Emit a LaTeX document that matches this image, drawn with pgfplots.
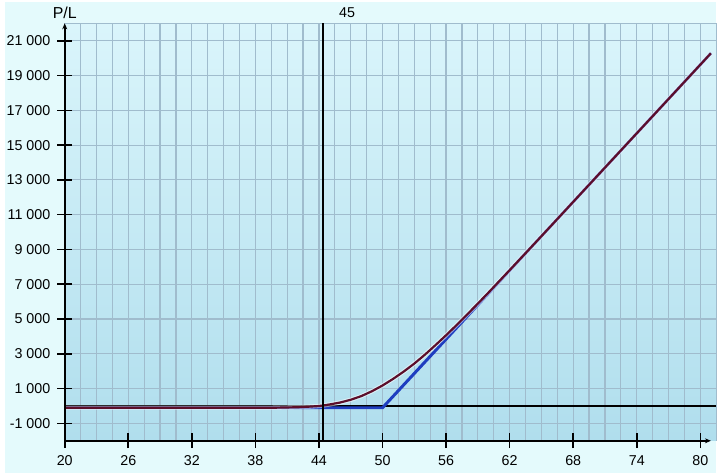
\documentclass[border=0pt]{standalone}
\usepackage{fontspec}
\setmainfont{Liberation Sans}
\usepackage{pgfplots}
\usepackage{pgfplotstable}
\pgfplotsset{compat=1.18}
\usetikzlibrary{arrows.meta}
\definecolor{outerbg}{RGB}{228,250,252}
\definecolor{plottop}{RGB}{218,245,251}
\definecolor{plotbot}{RGB}{176,222,237}
\definecolor{gridc}{RGB}{160,188,205}
\definecolor{redc}{RGB}{92,14,42}
\definecolor{bluec}{RGB}{30,62,192}

\pgfplotstableread{
x y
20 -100
38 -100
40 -95
42 -70
43 -40
44 0
44.5 40
45 90
46 200
47 360
48 570
49 850
50 1180
51 1560
52 1980
53 2440
54 2950
55 3500
56 4070
57 4660
58 5270
59 5890
60 6520
62 7810
64 9110
66 10420
70 13050
75 16335
81 20280
}\redtable

\pgfplotstableread{
x y
20 -100
50 -100
81 20280
}\bluetable

\begin{document}
\begin{tikzpicture}
\fill[outerbg] (-30pt,-16pt) rectangle (328.5pt,221.5pt);
\begin{axis}[
  at={(0pt,0pt)}, anchor=south west,
  scale only axis, width=328.5pt, height=210.5pt,
  xmin=20, xmax=81.5, ymin=-2000, ymax=22000,
  clip=false,
  scaled y ticks=false, scaled x ticks=false,
  axis background/.style={top color=plottop, bottom color=plotbot},
  axis line style={draw=none},
  xtick={20,26,32,38,44,50,56,62,68,74,80},
  minor xtick={21.5,23,24.5,27.5,29,30.5,33.5,35,36.5,39.5,41,42.5,45.5,47,48.5,51.5,53,54.5,57.5,59,60.5,63.5,65,66.5,69.5,71,72.5,75.5,77,78.5,81.5},
  minor ytick={},
  ytick={-1000,1000,3000,5000,7000,9000,11000,13000,15000,17000,19000,21000},
  yticklabels={-1 000,1 000,3 000,5 000,7 000,9 000,11 000,13 000,15 000,17 000,19 000,21 000},
  xticklabels={20,26,32,38,44,50,56,62,68,74,80},
  xmajorgrids=true, ymajorgrids=true, xminorgrids=true, yminorgrids=false,
  major grid style={gridc, line width=0.6pt},
  minor grid style={gridc, line width=0.6pt},
  tick style={black, line width=0.8pt},
  major tick length=7.5pt,
  minor tick length=0pt,
  tick align=center,
  xtick pos=bottom, ytick pos=left,
  ticklabel style={font=\fontsize{7.2}{8}\selectfont},
]
\draw[gridc, line width=0.6pt] (axis cs:20,22000) -- (axis cs:81.5,22000);
\draw[black, line width=0.6pt] (axis cs:20,0) -- (axis cs:81.5,0);
\addplot[bluec, line width=1.5pt] table {\bluetable};
\addplot[white, opacity=0.5, line width=2.2pt] table {\redtable};
\addplot[redc, line width=1.1pt] table {\redtable};
\draw[black, line width=1pt] (axis cs:44.4,-2000) -- (axis cs:44.4,22000);
\node[anchor=west, font=\fontsize{7.2}{8}\selectfont] at ([xshift=4.5pt,yshift=5.5pt]axis cs:44.4,22000) {45};
\node[font=\fontsize{8}{9}\selectfont] at ([yshift=5.5pt]axis cs:20,22000) {P/L};
\draw[black, line width=0.8pt, -{Stealth[length=3pt,width=2.5pt]}] (axis cs:20,-2000) -- (axis cs:81,-2000);
\draw[black, line width=0.8pt, -{Stealth[length=3pt,width=2.5pt]}] (axis cs:20,-2000) -- (axis cs:20,22000);
\end{axis}
\end{tikzpicture}
\end{document}
